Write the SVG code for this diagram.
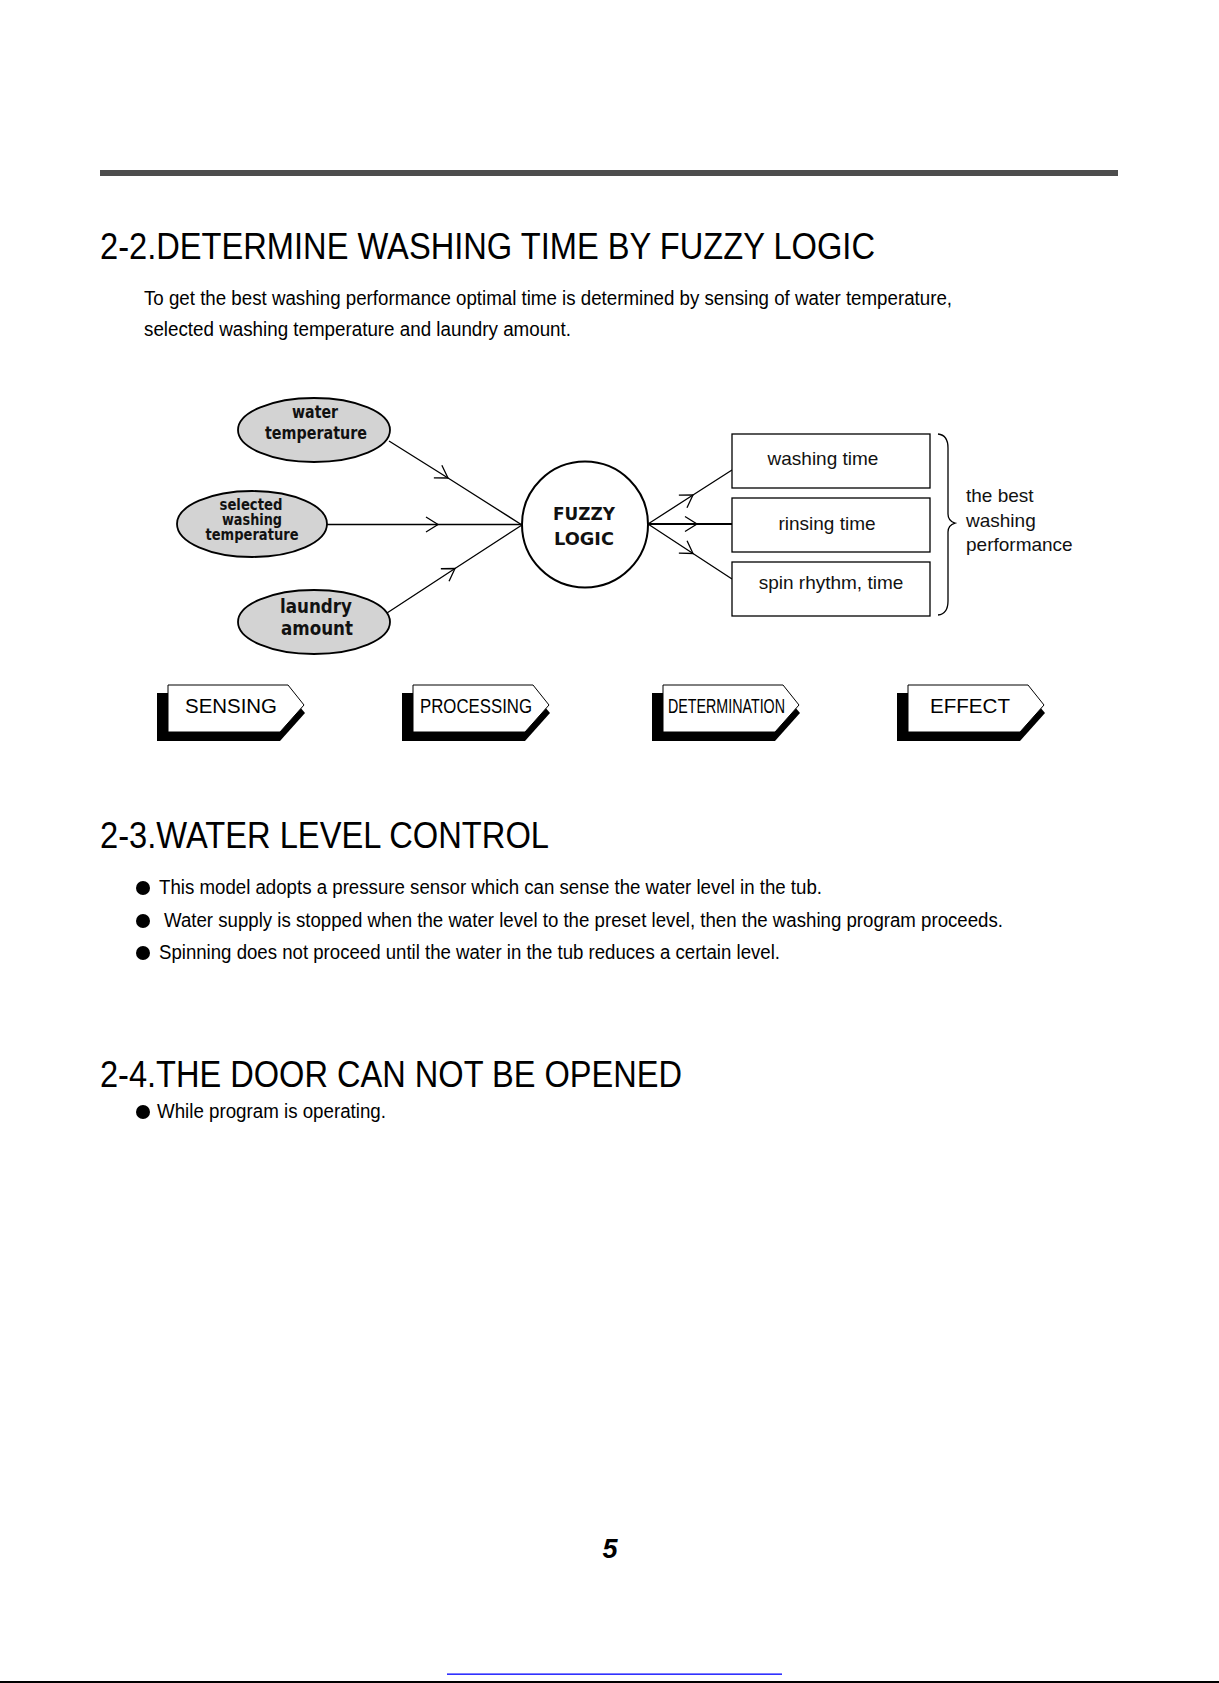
<svg xmlns="http://www.w3.org/2000/svg" xmlns:xlink="http://www.w3.org/1999/xlink" width="1219" height="1683" viewBox="0 0 1219 1683">
<defs>
<style>
.sans{font-family:"Liberation Sans",Arial,sans-serif;fill:#000}
.title{font-size:36px}
.body{font-size:20px}
.ell{fill:#d3d3d3;stroke:#000;stroke-width:1.8}
.elt{font-family:"DejaVu Sans",sans-serif;font-weight:bold;fill:#111;text-anchor:middle}
.box{fill:#fff;stroke:#000;stroke-width:1.3}
.boxt{font-family:"Liberation Sans",Arial,sans-serif;font-size:19px;fill:#111;text-anchor:middle}
.conn{fill:none;stroke:#000;stroke-width:1.3;marker-mid:url(#chev)}
.tagw{fill:#fff;stroke:#000;stroke-width:1}
.tags{fill:#000}
.tagt{font-family:"Liberation Sans",Arial,sans-serif;font-size:20px;fill:#000}
</style>
<marker id="chev" markerUnits="userSpaceOnUse" markerWidth="30" markerHeight="30" viewBox="-15 -15 30 30" refX="0" refY="0" orient="auto">
<path d="M-12,-7.5 L0,0 L-12,7.5" fill="none" stroke="#000" stroke-width="1.3"/>
</marker>
<g id="tagshape">
<polygon class="tags" points="-11,8 120,8 137,28 112,56 -11,56"/>
<polygon class="tagw" points="0,0 120,0 136,20 112,47 0,47"/>
</g>
</defs>
<rect x="0" y="0" width="1219" height="1683" fill="#fff"/>
<rect x="100" y="170" width="1018" height="6" fill="#4d4d4d"/>

<text class="sans title" x="100" y="259" textLength="775" lengthAdjust="spacingAndGlyphs">2-2.DETERMINE WASHING TIME BY FUZZY LOGIC</text>
<text class="sans body" x="144" y="305" textLength="808" lengthAdjust="spacingAndGlyphs">To get the best washing performance optimal time is determined by sensing of water temperature,</text>
<text class="sans body" x="144" y="336" textLength="427" lengthAdjust="spacingAndGlyphs">selected washing temperature and laundry amount.</text>

<g id="connectors">
<polyline class="conn" points="389,441 448,478 522,525"/>
<polyline class="conn" points="327,524.5 438,524.5 522,524.5"/>
<polyline class="conn" points="387,613 455,568.5 522,525"/>
<polyline class="conn" points="648,524 693,495 732,470"/>
<polyline class="conn" points="648,524 697,524 732,524" style="stroke-width:2.2"/>
<polyline class="conn" points="648,524 693,553.5 732,579"/>
</g>

<g id="node-water-temperature">
<ellipse class="ell" cx="314" cy="430" rx="76" ry="32"/>
<text class="elt" x="315" y="418" font-size="17" textLength="46" lengthAdjust="spacingAndGlyphs">water</text>
<text class="elt" x="316" y="439" font-size="17" textLength="102" lengthAdjust="spacingAndGlyphs">temperature</text>
</g>
<g id="node-selected-washing-temperature">
<ellipse class="ell" cx="252" cy="524" rx="75" ry="33"/>
<text class="elt" x="251" y="510" font-size="15" textLength="63" lengthAdjust="spacingAndGlyphs">selected</text>
<text class="elt" x="252" y="525" font-size="15" textLength="60" lengthAdjust="spacingAndGlyphs">washing</text>
<text class="elt" x="252" y="540" font-size="15" textLength="93" lengthAdjust="spacingAndGlyphs">temperature</text>
</g>
<g id="node-laundry-amount">
<ellipse class="ell" cx="314" cy="622" rx="76" ry="32"/>
<text class="elt" x="316" y="613" font-size="19" textLength="72" lengthAdjust="spacingAndGlyphs">laundry</text>
<text class="elt" x="317" y="635" font-size="19" textLength="72" lengthAdjust="spacingAndGlyphs">amount</text>
</g>
<g id="node-fuzzy-logic">
<circle cx="585" cy="524.5" r="63" fill="#fff" stroke="#000" stroke-width="2"/>
<text class="elt" x="584" y="520" font-size="18" textLength="62" lengthAdjust="spacingAndGlyphs">FUZZY</text>
<text class="elt" x="584" y="545" font-size="18" textLength="60" lengthAdjust="spacingAndGlyphs">LOGIC</text>
</g>
<g id="node-washing-time">
<rect class="box" x="732" y="434" width="198" height="54"/>
<text class="boxt" x="823" y="465">washing time</text>
</g>
<g id="node-rinsing-time">
<rect class="box" x="732" y="498" width="198" height="54"/>
<text class="boxt" x="827" y="530">rinsing time</text>
</g>
<g id="node-spin">
<rect class="box" x="732" y="562" width="198" height="54"/>
<text class="boxt" x="831" y="589">spin rhythm, time</text>
</g>
<g id="node-effect-label">
<path d="M938,434 Q948,435 948,448 L948,514 Q948,521 955,523 Q948,525 948,532 L948,601 Q948,614 938,615" fill="none" stroke="#000" stroke-width="1.3"/>
<text class="boxt" x="966" y="502" style="text-anchor:start">the best</text>
<text class="boxt" x="966" y="527" style="text-anchor:start">washing</text>
<text class="boxt" x="966" y="551" style="text-anchor:start">performance</text>
</g>

<g id="stage-sensing">
<use xlink:href="#tagshape" href="#tagshape" transform="translate(168,685)"/>
<text class="tagt" x="185" y="713" textLength="92" lengthAdjust="spacingAndGlyphs">SENSING</text>
</g>
<g id="stage-processing">
<use xlink:href="#tagshape" href="#tagshape" transform="translate(413,685)"/>
<text class="tagt" x="420" y="713" textLength="112" lengthAdjust="spacingAndGlyphs">PROCESSING</text>
</g>
<g id="stage-determination">
<use xlink:href="#tagshape" href="#tagshape" transform="translate(663,685)"/>
<text class="tagt" x="668" y="713" textLength="117" lengthAdjust="spacingAndGlyphs">DETERMINATION</text>
</g>
<g id="stage-effect">
<use xlink:href="#tagshape" href="#tagshape" transform="translate(908,685)"/>
<text class="tagt" x="930" y="713" textLength="80" lengthAdjust="spacingAndGlyphs">EFFECT</text>
</g>

<text class="sans title" x="100" y="848" textLength="449" lengthAdjust="spacingAndGlyphs">2-3.WATER LEVEL CONTROL</text>
<circle cx="143" cy="888" r="7"/>
<text class="sans body" x="159" y="894" textLength="663" lengthAdjust="spacingAndGlyphs">This model adopts a pressure sensor which can sense the water level in the tub.</text>
<circle cx="143" cy="921" r="7"/>
<text class="sans body" x="164" y="927" textLength="839" lengthAdjust="spacingAndGlyphs">Water supply is stopped when the water level to the preset level, then the washing program proceeds.</text>
<circle cx="143" cy="953" r="7"/>
<text class="sans body" x="159" y="959" textLength="621" lengthAdjust="spacingAndGlyphs">Spinning does not proceed until the water in the tub reduces a certain level.</text>

<text class="sans title" x="100" y="1087" textLength="582" lengthAdjust="spacingAndGlyphs">2-4.THE DOOR CAN NOT BE OPENED</text>
<circle cx="143" cy="1112" r="7"/>
<text class="sans body" x="157" y="1118" textLength="229" lengthAdjust="spacingAndGlyphs">While program is operating.</text>

<text class="sans" x="610" y="1558" font-size="27" font-weight="bold" font-style="italic" text-anchor="middle">5</text>
<rect x="447" y="1673.5" width="335" height="1.3" fill="#0000ff"/>
<rect x="0" y="1681" width="1219" height="2" fill="#000"/>
</svg>
